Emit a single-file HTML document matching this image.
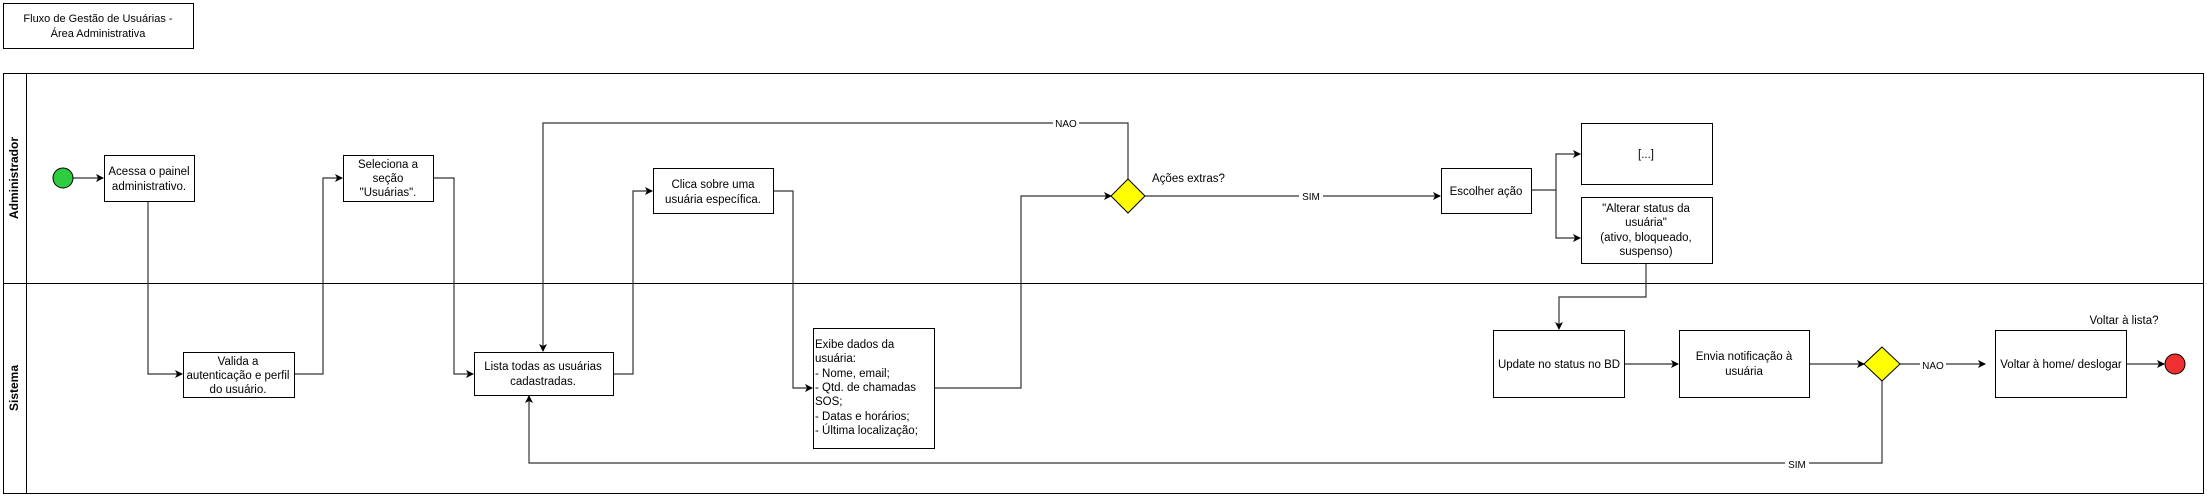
<!DOCTYPE html>
<html><head><meta charset="utf-8"><style>
html,body{margin:0;padding:0;background:#fff;}
svg{display:block;font-family:"Liberation Sans",sans-serif;}
</style></head><body>
<svg width="2207" height="498" viewBox="0 0 2207 498" xmlns="http://www.w3.org/2000/svg">
<defs><marker id="a" markerWidth="8" markerHeight="8" refX="7" refY="4" orient="auto" markerUnits="userSpaceOnUse"><path d="M0,0 L8,4 L0,8 L2,4 Z" fill="#000"/></marker></defs>
<g fill="none" stroke="#000" stroke-width="1">
<rect x="3.5" y="3.5" width="190" height="45"/>
<rect x="3.5" y="73.5" width="2200" height="420"/>
<line x1="26.5" y1="73" x2="26.5" y2="493"/>
<line x1="3" y1="283.5" x2="2203" y2="283.5"/>
</g>
<g font-size="11" text-anchor="middle" fill="#000">
<text x="98" y="22">Fluxo de Gestão de Usuárias -</text>
<text x="98" y="37">Área Administrativa</text>
</g>
<g font-weight="bold" font-size="12" text-anchor="middle">
<text transform="translate(18,178) rotate(-90)">Administrador</text>
<text transform="translate(18,388) rotate(-90)">Sistema</text>
</g>
<!-- connectors -->
<g fill="none" stroke="#333" stroke-width="1.2" marker-end="url(#a)">
<path d="M73,178 H103"/>
<path d="M148,201 V374 H182"/>
<path d="M294,374 H323 V178 H342"/>
<path d="M433,178 H454 V374 H473"/>
<path d="M613,374 H633 V191 H652"/>
<path d="M773,191 H793 V388 H812"/>
<path d="M934,388 H1021 V196 H1111"/>
<path d="M1128,179 V123 H543 V351"/>
<path d="M1145,196 H1440"/>
<path d="M1531,190 H1556 V154 H1580"/>
<path d="M1556,190 V238 H1580"/>
<path d="M1646,263 V297 H1559 V329"/>
<path d="M1624,364 H1678"/>
<path d="M1809,364 H1864"/>
<path d="M1900,364 H1985"/>
<path d="M2126,364 H2164"/>
<path d="M1882,381 V463 H529 V396"/>
</g>
<!-- label bg -->
<g fill="#fff"><rect x="1053" y="117" width="26" height="12"/><rect x="1299" y="190" width="24" height="12"/><rect x="1920" y="358" width="26" height="12"/><rect x="1785" y="457" width="24" height="12"/></g>
<g font-size="10" text-anchor="middle"><text x="1066" y="127">NAO</text><text x="1311" y="200">SIM</text><text x="1933" y="369">NAO</text><text x="1797" y="468">SIM</text></g>
<!-- nodes -->
<g fill="#fff" stroke="#000" stroke-width="1">
<rect x="104.5" y="155.5" width="90" height="46"/>
<rect x="183.5" y="352.5" width="111" height="45"/>
<rect x="343.5" y="155.5" width="90" height="46"/>
<rect x="474.5" y="352.5" width="139" height="43"/>
<rect x="653.5" y="168.5" width="120" height="45"/>
<rect x="813.5" y="328.5" width="121" height="120"/>
<rect x="1441.5" y="168.5" width="90" height="45"/>
<rect x="1581.5" y="123.5" width="131" height="61"/>
<rect x="1581.5" y="197.5" width="131" height="66"/>
<rect x="1493.5" y="330.5" width="131" height="67"/>
<rect x="1679.5" y="330.5" width="130" height="67"/>
<rect x="1995.5" y="330.5" width="131" height="67"/>
</g>
<circle cx="63" cy="178" r="10" fill="#2ecc40" stroke="#000"/>
<circle cx="2175" cy="364" r="10" fill="#f03030" stroke="#000"/>
<path d="M1128,179 L1145,196 L1128,213 L1111,196 Z" fill="#ffff00" stroke="#000"/>
<path d="M1882,347 L1900,364 L1882,381 L1864,364 Z" fill="#ffff00" stroke="#000"/>
<g font-size="11.5" text-anchor="middle" fill="#000">
<text x="149" y="175">Acessa o painel</text><text x="149" y="190">administrativo.</text>
<text x="238" y="365">Valida a</text><text x="238" y="379">autenticação e perfil</text><text x="238" y="393">do usuário.</text>
<text x="388" y="168">Seleciona a</text><text x="388" y="182">seção</text><text x="388" y="196">"Usuárias".</text>
<text x="543" y="370">Lista todas as usuárias</text><text x="543" y="385">cadastradas.</text>
<text x="713" y="188">Clica sobre uma</text><text x="713" y="203">usuária específica.</text>
<text x="1486" y="195">Escolher ação</text>
<text x="1646" y="158">[...]</text>
<text x="1646" y="212">"Alterar status da</text><text x="1646" y="226">usuária"</text><text x="1646" y="241">(ativo, bloqueado,</text><text x="1646" y="255">suspenso)</text>
<text x="1559" y="368">Update no status no BD</text>
<text x="1744" y="360">Envia notificação à</text><text x="1744" y="375">usuária</text>
<text x="2061" y="368">Voltar à home/ deslogar</text>
<text x="2124" y="324">Voltar à lista?</text>
</g>
<g font-size="11.5" fill="#000">
<text x="1152" y="182">Ações extras?</text>
<text x="815" y="348">Exibe dados da</text>
<text x="815" y="362">usuária:</text>
<text x="815" y="377">- Nome, email;</text>
<text x="815" y="391">- Qtd. de chamadas</text>
<text x="815" y="405">SOS;</text>
<text x="815" y="420">- Datas e horários;</text>
<text x="815" y="434">- Última localização;</text>
</g>
</svg>
</body></html>
